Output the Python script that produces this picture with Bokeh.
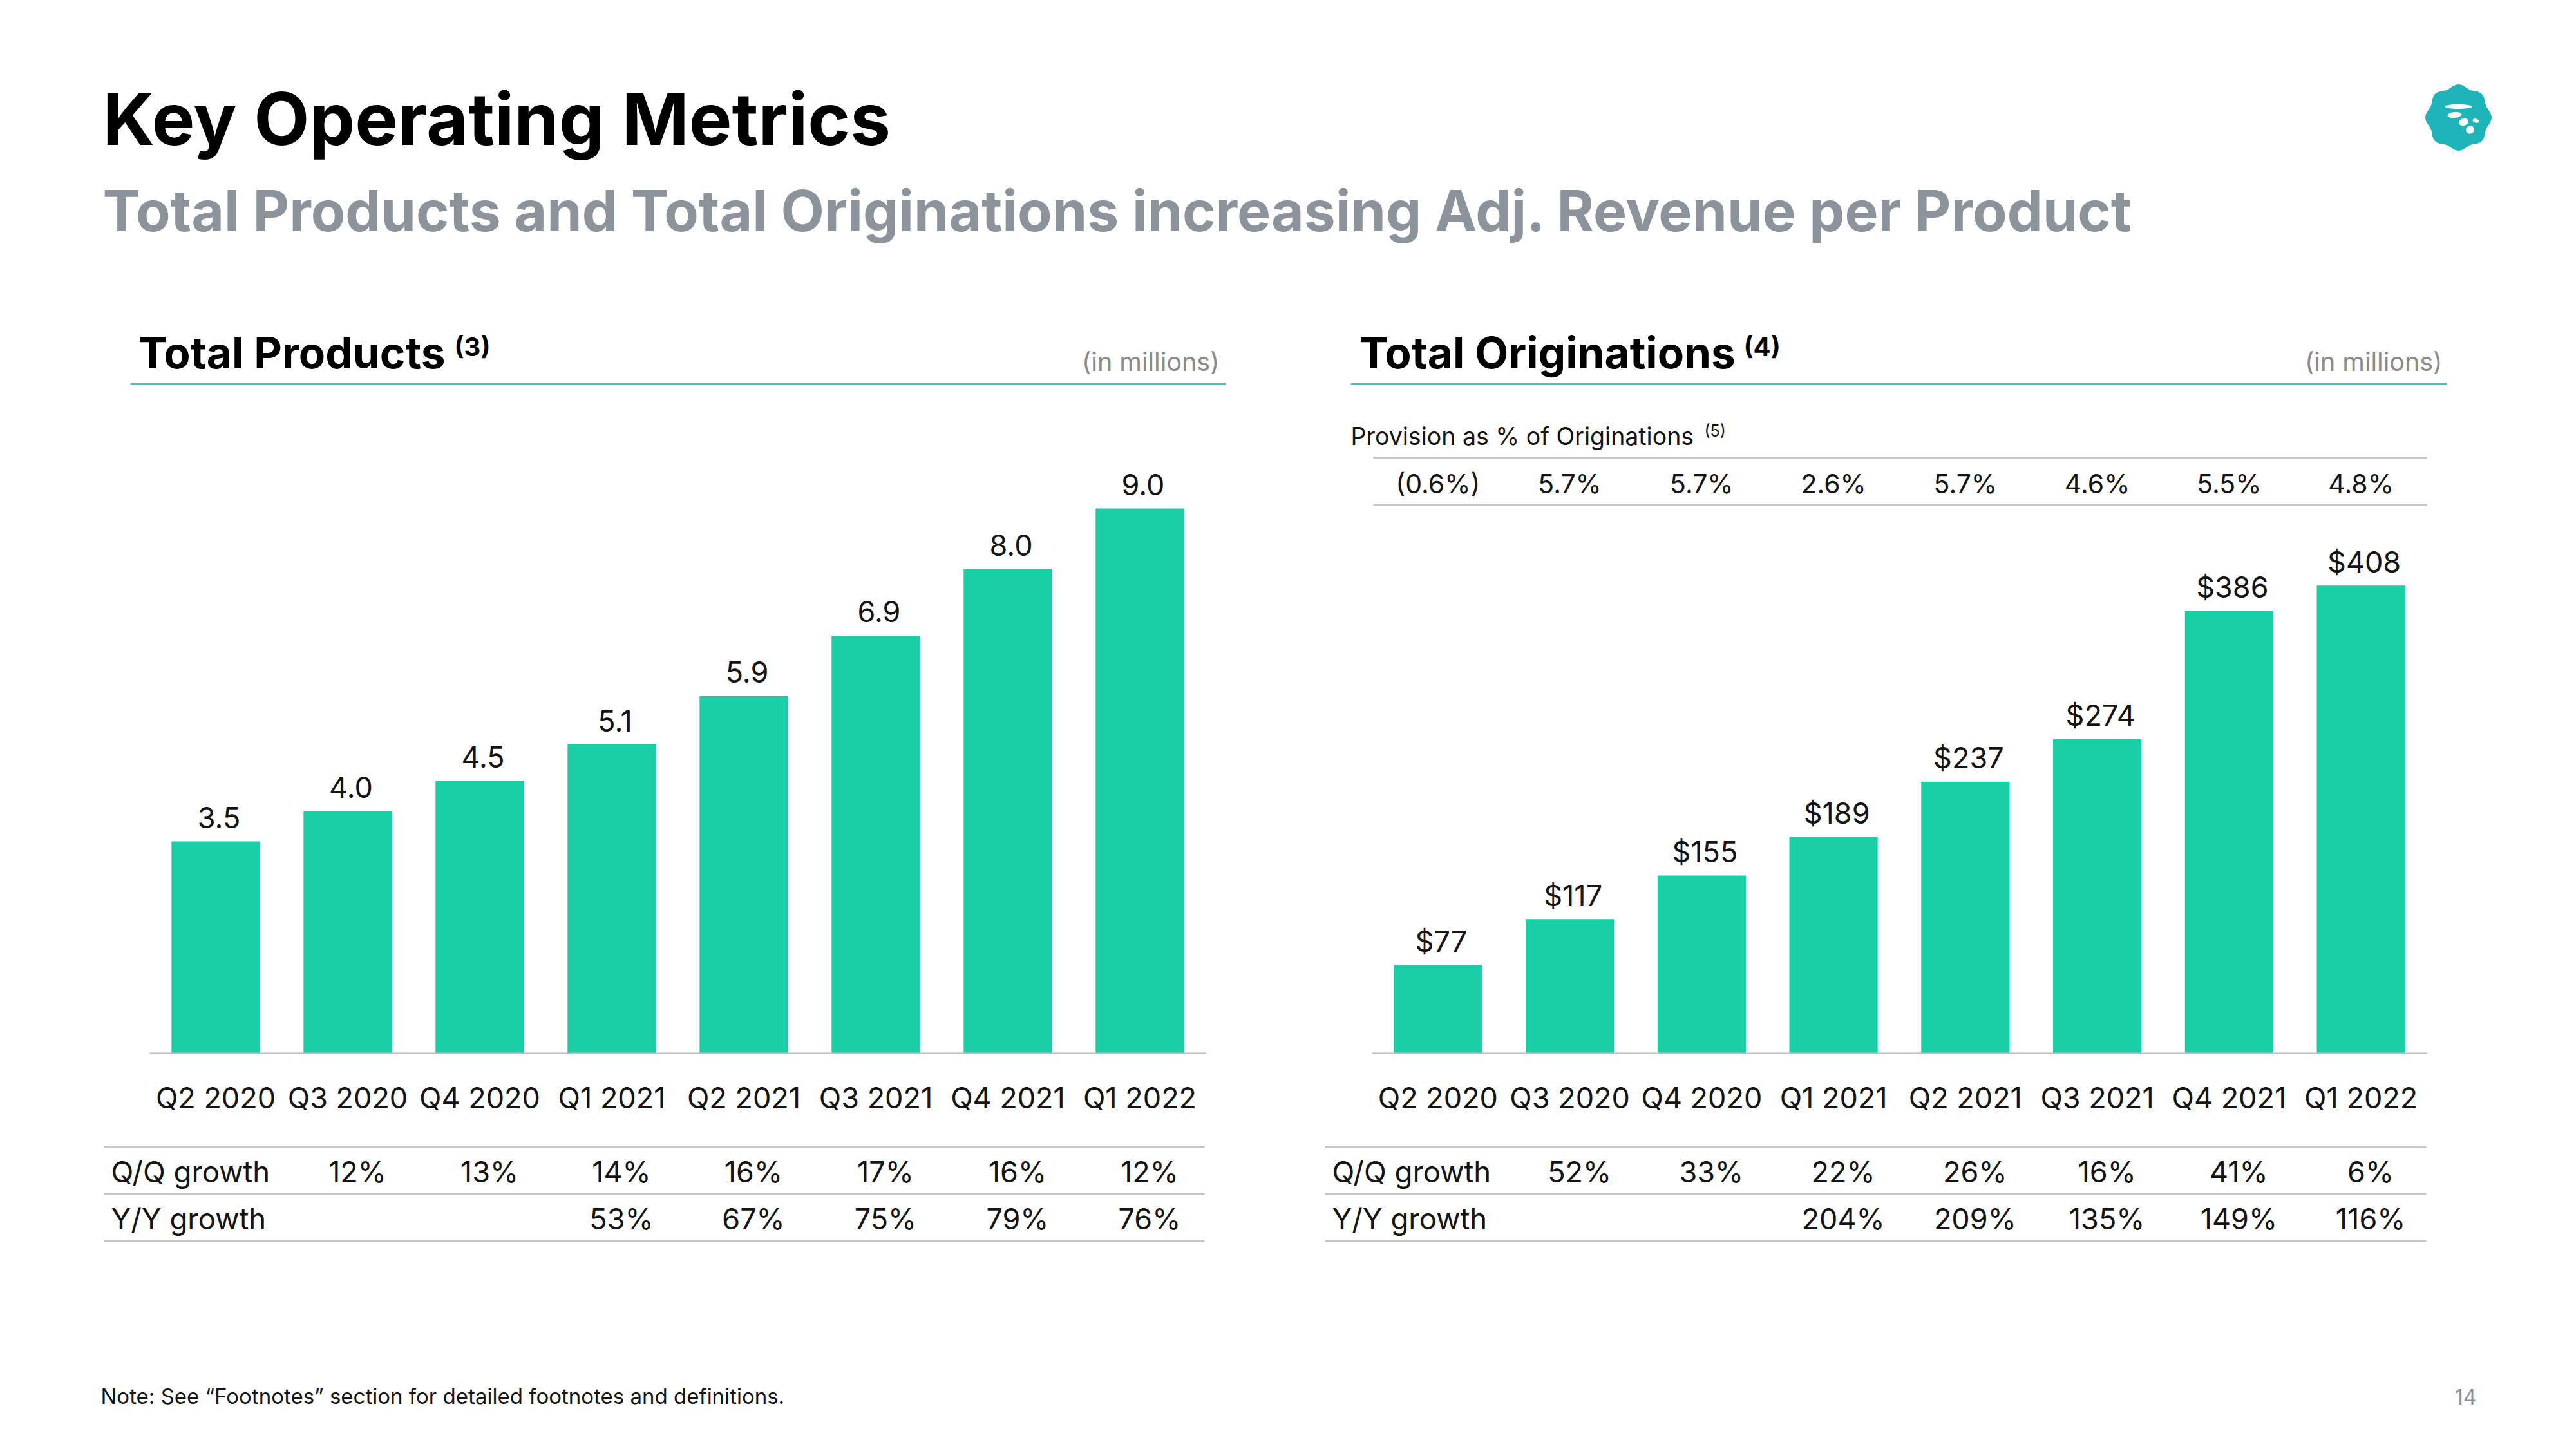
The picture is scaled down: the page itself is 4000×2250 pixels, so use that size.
import numpy as np
from bokeh.plotting import figure
from bokeh.models import (Range1d, FactorRange, CategoricalScale, LinearScale,
                          CoordinateMapping, GlyphRenderer, ColumnDataSource, VBar, Text)
from bokeh.core.properties import value
from bokeh.embed import file_html
from bokeh.resources import INLINE

# ---------------- data ----------------
quarters = ["Q2 2020", "Q3 2020", "Q4 2020", "Q1 2021", "Q2 2021", "Q3 2021", "Q4 2021", "Q1 2022"]

products = [3.5, 4.0, 4.5, 5.1, 5.9, 6.9, 8.0, 9.0]
products_labels = ["3.5", "4.0", "4.5", "5.1", "5.9", "6.9", "8.0", "9.0"]
products_qq = ["", "12%", "13%", "14%", "16%", "17%", "16%", "12%"]
products_yy = ["", "", "", "53%", "67%", "75%", "79%", "76%"]

originations = [77, 117, 155, 189, 237, 274, 386, 408]
originations_labels = ["$77", "$117", "$155", "$189", "$237", "$274", "$386", "$408"]
provision_pct = ["(0.6%)", "5.7%", "5.7%", "2.6%", "5.7%", "4.6%", "5.5%", "4.8%"]
originations_qq = ["", "52%", "33%", "22%", "26%", "16%", "41%", "6%"]
originations_yy = ["", "", "", "204%", "209%", "135%", "149%", "116%"]

# ---------------- style ----------------
FONT = value("Inter")
BAR = "#1acea6"
TEXT = "#141414"
GRAY_TXT = "#8d939b"
RULE = "#c6c6c6"
TEAL_LINE = "#45c8b6"
K = 0.355  # baseline correction (fraction of font size)

W, H = 3984, 2234
p = figure(width=W, height=H, x_range=Range1d(0, W), y_range=Range1d(H, 0),
           output_backend="svg", toolbar_location=None, min_border=0,
           x_axis_location=None, y_axis_location=None)
p.grid.visible = False
p.outline_line_color = None
p.background_fill_color = "white"
p.border_fill_color = "white"


def ptext(x, y, t, size, color=TEXT, style="normal", align="left"):
    p.text(x=[x], y=[y - K * size], text=[t], text_font=FONT, text_font_size=f"{size}px",
           text_color=color, text_font_style=style, text_align=align, text_baseline="alphabetic")


# ---------------- page header ----------------
ptext(159, 223, "Key Operating Metrics", 112, color="#000000", style="bold")
ptext(159, 358, "Total Products and Total Originations increasing Adj. Revenue per Product", 87.5,
      color=GRAY_TXT, style="bold")

# logo (scalloped badge)
theta = np.linspace(0, 2 * np.pi, 181)
rad = 49 + 2.5 * np.cos(8 * theta)
p.patch(x=3817 + rad * np.cos(theta), y=182 + rad * np.sin(theta), fill_color="#1fb5b8", line_color=None)
p.ellipse(x=[3817, 3811, 3825, 3835, 3844], y=[165, 178, 189, 201, 187],
          width=[42, 22, 15, 13, 6], height=[7, 9, 11, 12, 10],
          angle=[0, 0.1, 0.3, 0.3, 1.3], fill_color="white", line_color=None)

# ---------------- panel headings ----------------
panels = [
    dict(title="Total Products", sup="(3)", tx=214, sx=705, lx0=202, lx1=1903, rx=1893),
    dict(title="Total Originations", sup="(4)", tx=2110, sx=2707, lx0=2097, lx1=3799, rx=3792),
]
for pn in panels:
    ptext(pn["tx"], 571, pn["title"], 67.5, color="#000000", style="bold")
    ptext(pn["sx"], 552, pn["sup"], 40, color="#000000", style="bold")
    ptext(pn["rx"], 576, "(in millions)", 39.5, color="#8a8a8a", align="right")
    p.segment(x0=[pn["lx0"]], y0=[596], x1=[pn["lx1"]], y1=[596], line_color=TEAL_LINE, line_width=3)

# provision header (right panel)
ptext(2097, 690, "Provision as % of Originations", 37.5)
ptext(2646, 677, "(5)", 25)
p.segment(x0=[2132, 2132], y0=[710, 783], x1=[3768, 3768], y1=[710, 783], line_color=RULE, line_width=3)

# ---------------- bar charts ----------------
BASE = 1635
charts = [
    dict(x0=232, x1=1872, vals=products, labels=products_labels, vmax=10.0, px=940.0,
         qq=products_qq, yy=products_yy, t0=161, t1=1870, rowx=172),
    dict(x0=2130, x1=3768, vals=originations, labels=originations_labels, vmax=500.0, px=890.0,
         qq=originations_qq, yy=originations_yy, t0=2057, t1=3767, rowx=2068),
]


def add_renderer(glyph, data, coords):
    r = GlyphRenderer(data_source=ColumnDataSource(data), glyph=glyph, coordinates=coords)
    p.renderers.append(r)
    return r


def txt_glyph(size, color=TEXT, x_off=0, y_off=0):
    return Text(x="x", y="y", text="t", text_font=FONT, text_font_size=f"{size}px",
                text_color=color, text_align="center", text_baseline="alphabetic",
                x_offset=x_off, y_offset=y_off - K * size)


for ch in charts:
    cat_range = FactorRange(factors=quarters)
    bars_map = CoordinateMapping(x_source=cat_range, x_scale=CategoricalScale(),
                                 x_target=Range1d(ch["x0"], ch["x1"]),
                                 y_source=Range1d(0, ch["vmax"]), y_scale=LinearScale(),
                                 y_target=Range1d(BASE, BASE - ch["px"]))
    rows_map = CoordinateMapping(x_source=cat_range, x_scale=CategoricalScale(),
                                 x_target=Range1d(ch["x0"], ch["x1"]),
                                 y_source=Range1d(0, 1), y_scale=LinearScale(),
                                 y_target=Range1d(0, 1))
    # bars
    add_renderer(VBar(x="x", top="top", width=0.67, fill_color=BAR, line_color=None),
                 dict(x=quarters, top=ch["vals"]), bars_map)
    # value labels
    add_renderer(txt_glyph(45, x_off=5, y_off=-21), dict(x=quarters, y=ch["vals"], t=ch["labels"]), bars_map)
    # baseline
    p.segment(x0=[ch["x0"]], y0=[BASE], x1=[ch["x1"]], y1=[BASE], line_color="#bdbdbd", line_width=2)
    # category labels
    add_renderer(txt_glyph(45), dict(x=quarters, y=[1720] * len(quarters), t=quarters), rows_map)
    # table rules
    p.segment(x0=[ch["t0"]] * 3, y0=[1780, 1853, 1926], x1=[ch["t1"]] * 3, y1=[1780, 1853, 1926],
              line_color=RULE, line_width=3)
    # table rows
    ptext(ch["rowx"], 1835, "Q/Q growth", 45.5)
    ptext(ch["rowx"], 1908, "Y/Y growth", 45.5)
    qx = [q for q, v in zip(quarters, ch["qq"]) if v]
    qv = [v for v in ch["qq"] if v]
    add_renderer(txt_glyph(45, x_off=15), dict(x=qx, y=[1835] * len(qx), t=qv), rows_map)
    yx = [q for q, v in zip(quarters, ch["yy"]) if v]
    yv = [v for v in ch["yy"] if v]
    add_renderer(txt_glyph(45, x_off=15), dict(x=yx, y=[1908] * len(yx), t=yv), rows_map)
    if ch is charts[1]:
        add_renderer(txt_glyph(41, x_off=0),
                     dict(x=quarters, y=[765] * len(quarters), t=provision_pct), rows_map)

# ---------------- footer ----------------
ptext(156, 2179, "Note: See \u201cFootnotes\u201d section for detailed footnotes and definitions.", 33)
ptext(3845, 2180, "14", 32, color=GRAY_TXT, align="right")

open("out.html", "w").write(file_html(p, INLINE))
